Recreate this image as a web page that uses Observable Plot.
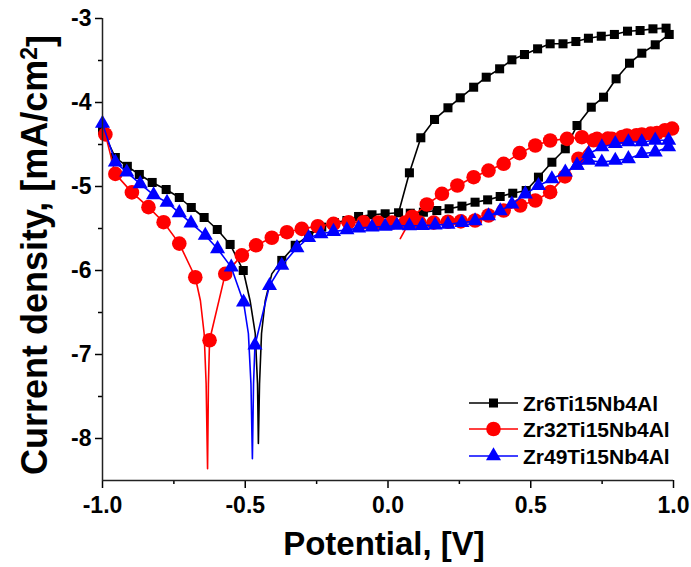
<!DOCTYPE html>
<html><head><meta charset="utf-8">
<script src="https://cdn.jsdelivr.net/npm/d3@7"></script>
<script src="https://cdn.jsdelivr.net/npm/@observablehq/plot@0.6"></script>
<style>body{margin:0;background:#fff}#chart{width:691px;height:567px}</style>
</head><body><div id="chart"></div>
<script>
// ---- data: [potential V, log current density] ----
const seriesNames = ["Zr6Ti15Nb4Al", "Zr32Ti15Nb4Al", "Zr49Ti15Nb4Al"];
const seriesColors = ["#000000", "#ff0000", "#0000ff"];
const seriesSymbols = ["square", "circle", "triangle"];

const xTicks = [-1.0, -0.5, 0.0, 0.5, 1.0];
const xMinorTicks = [-0.75, -0.25, 0.25, 0.75];
const yTicks = [-3, -4, -5, -6, -7, -8];
const yMinorTicks = [-3.5, -4.5, -5.5, -6.5, -7.5];

// Zr6Ti15Nb4Al
const zr6Cathodic = [[-1.000,-4.33],[-0.955,-4.655],[-0.913,-4.76],[-0.871,-4.857],[-0.826,-4.952],[-0.777,-5.036],[-0.731,-5.131],[-0.689,-5.25],[-0.644,-5.369],[-0.598,-5.512],[-0.553,-5.69],[-0.507,-6.0]];
const zr6Tip = [[-0.483,-6.36],[-0.465,-6.75],[-0.457,-7.35],[-0.454,-8.06],[-0.450,-7.35],[-0.443,-6.75],[-0.430,-6.36],[-0.407,-6.04]];
const zr6Anodic = [[-0.372,-5.88],[-0.325,-5.70],[-0.278,-5.583],[-0.232,-5.484],[-0.188,-5.43],[-0.144,-5.405],[-0.103,-5.357],[-0.056,-5.337],[-0.010,-5.325],[0.037,-5.313],
  [0.075,-4.837],[0.115,-4.42],[0.163,-4.202],[0.210,-4.063],[0.253,-3.944],[0.300,-3.818],[0.344,-3.699],[0.391,-3.599],[0.434,-3.492],[0.478,-3.429],[0.524,-3.361],[0.568,-3.301],[0.613,-3.301],[0.658,-3.274],[0.702,-3.235],[0.747,-3.211],[0.793,-3.19],[0.839,-3.151],[0.883,-3.143],[0.928,-3.123],[0.974,-3.115],[0.985,-3.19]];
const zr6Reverse = [[0.936,-3.313],[0.889,-3.413],[0.846,-3.532],[0.799,-3.718],[0.755,-3.937],[0.712,-4.056],[0.662,-4.274],[0.621,-4.551],[0.574,-4.711],[0.527,-4.889],[0.484,-5.048],[0.437,-5.08],[0.393,-5.119],[0.349,-5.159],[0.305,-5.187],[0.259,-5.234],[0.214,-5.265],[0.171,-5.286],[0.124,-5.306],[0.078,-5.318]];
const zr6End = [];

// Zr32Ti15Nb4Al
const zr32Cathodic = [[-0.990,-4.38],[-0.955,-4.85],[-0.897,-5.07],[-0.839,-5.246],[-0.786,-5.425],[-0.731,-5.68],[-0.675,-6.08]];
const zr32Tip = [[-0.657,-6.36],[-0.644,-6.75],[-0.637,-7.35],[-0.632,-8.36],[-0.629,-7.35]];
const zr32Anodic = [[-0.625,-6.83],[-0.570,-6.04],[-0.512,-5.82],[-0.462,-5.70],[-0.407,-5.61],[-0.354,-5.544],[-0.302,-5.504],[-0.246,-5.473],[-0.191,-5.444],[-0.138,-5.425],[-0.086,-5.425],[-0.034,-5.43],[0.014,-5.43],[0.060,-5.43],[0.110,-5.43],[0.160,-5.43],[0.210,-5.42],[0.255,-5.415],[0.305,-5.405],[0.352,-5.345],[0.405,-5.286],[0.463,-5.226],[0.516,-5.167],[0.568,-5.067],[0.620,-4.88],[0.667,-4.67],[0.720,-4.45],[0.770,-4.43],[0.820,-4.41],[0.870,-4.39],[0.920,-4.37],[0.970,-4.33],[0.995,-4.31]];
const zr32Reverse = [[0.942,-4.365],[0.889,-4.381],[0.837,-4.393],[0.784,-4.433],[0.732,-4.433],[0.679,-4.413],[0.627,-4.433],[0.568,-4.452],[0.516,-4.512],[0.461,-4.603],[0.405,-4.73],[0.352,-4.81],[0.300,-4.889],[0.243,-4.988],[0.189,-5.087],[0.136,-5.214],[0.085,-5.36]];
const zr32End = [[0.043,-5.62]];

// Zr49Ti15Nb4Al
const zr49Cathodic = [[-1.000,-4.25],[-0.955,-4.71],[-0.915,-4.83],[-0.868,-4.968],[-0.821,-5.10],[-0.774,-5.19],[-0.731,-5.313],[-0.690,-5.437],[-0.640,-5.583],[-0.597,-5.742],[-0.549,-5.96],[-0.506,-6.377]];
const zr49Tip = [[-0.489,-6.75],[-0.480,-7.35],[-0.475,-8.24],[-0.471,-7.35]];
const zr49Anodic = [[-0.466,-6.89],[-0.415,-6.18],[-0.372,-5.94],[-0.319,-5.73],[-0.278,-5.61],[-0.235,-5.563],[-0.191,-5.536],[-0.144,-5.516],[-0.103,-5.496],[-0.056,-5.484],[-0.010,-5.476],[0.031,-5.464],[0.075,-5.47],[0.120,-5.465],[0.165,-5.46],[0.210,-5.45],[0.259,-5.43],[0.305,-5.41],[0.352,-5.35],[0.393,-5.29],[0.434,-5.21],[0.481,-5.09],[0.527,-4.99],[0.574,-4.91],[0.621,-4.83],[0.662,-4.75],[0.703,-4.61],[0.749,-4.53],[0.796,-4.49],[0.842,-4.47],[0.889,-4.47],[0.936,-4.45],[0.983,-4.45]];
const zr49Reverse = [[0.983,-4.53],[0.936,-4.59],[0.889,-4.61],[0.842,-4.67],[0.796,-4.69],[0.749,-4.71],[0.703,-4.69],[0.662,-4.75]];
const zr49End = [];

// ---- build tables ----
const groups = [
  [zr6Cathodic, zr6Tip, zr6Anodic, zr6Reverse, zr6End],
  [zr32Cathodic, zr32Tip, zr32Anodic, zr32Reverse, zr32End],
  [zr49Cathodic, zr49Tip, zr49Anodic, zr49Reverse, zr49End]
];
const lineRows = [], markRows = [];
groups.forEach((g, si) => {
  const [cat, tip, ano, rev, end] = g;
  [...cat, ...tip, ...ano, ...rev, ...end].forEach(([E, i], k) => lineRows.push({s: si, k, E, i}));
  [...cat, ...ano, ...rev].forEach(([E, i]) => markRows.push({s: si, E, i}));
});

const FONT = "'Liberation Sans', Arial, sans-serif";
const W = 691, H = 567;
const mL = 102, mR = 18, mT = 18, mB = 87;
const markR = [5.1, 7.3, 5.6];

const marks = [];
seriesNames.forEach((name, si) => {
  marks.push(Plot.line(lineRows.filter(d => d.s === si), {x: "E", y: "i", stroke: seriesColors[si], strokeWidth: 1.6}));
  marks.push(Plot.dot(markRows.filter(d => d.s === si), {x: "E", y: "i", symbol: () => seriesSymbols[si], r: markR[si], fill: seriesColors[si], stroke: "none"}));
});

const chart = Plot.plot({
  width: W, height: H,
  marginLeft: mL, marginRight: mR, marginTop: mT, marginBottom: mB,
  x: {domain: [-1, 1]},
  y: {domain: [-8.5, -3]},
  style: {fontFamily: FONT, fontWeight: "bold", fontSize: "23px", color: "#000", background: "#fff"},
  marks: [
    ...marks,
    Plot.axisX({ticks: xMinorTicks, tickSize: 4, tickFormat: () => "", label: null, strokeWidth: 1.5}),
    Plot.axisX({ticks: xTicks, tickSize: 8, tickPadding: 8, tickFormat: d => d.toFixed(1), label: null, strokeWidth: 1.5, fontSize: 23}),
    Plot.axisY({ticks: yMinorTicks, tickSize: 4, tickFormat: () => "", label: null, strokeWidth: 1.5}),
    Plot.axisY({ticks: yTicks, tickSize: 7, tickPadding: 4, tickFormat: d => String(d), label: null, strokeWidth: 1.5, fontSize: 23}),
    Plot.ruleX([-1], {stroke: "#222", strokeWidth: 1.5}),
    Plot.ruleY([-8.5], {stroke: "#222", strokeWidth: 1.5})
  ]
});
document.getElementById("chart").appendChild(chart);

// ---- titles and legend ----
const svg = d3.select(chart);
svg.append("text")
  .attr("x", 384).attr("y", 555)
  .attr("text-anchor", "middle")
  .style("font-family", FONT).style("font-weight", "bold").style("font-size", "33px")
  .text("Potential, [V]");

const yt = svg.append("text")
  .attr("transform", `translate(47,255) rotate(-90)`)
  .attr("text-anchor", "middle")
  .style("font-family", FONT).style("font-weight", "bold").style("font-size", "36px");
yt.append("tspan").text("Current density, [mA/cm");
yt.append("tspan").attr("dy", "-0.45em").style("font-size", "23px").text("2");
yt.append("tspan").attr("dy", "0.45em").text("]");

const leg = svg.append("g");
const legY = [403, 429, 456];
seriesNames.forEach((name, si) => {
  const y = legY[si];
  leg.append("line").attr("x1", 469).attr("x2", 518).attr("y1", y).attr("y2", y)
    .attr("stroke", seriesColors[si]).attr("stroke-width", 1.6);
  const sym = [d3.symbolSquare, d3.symbolCircle, d3.symbolTriangle][si];
  leg.append("path").attr("transform", `translate(493.5,${y})`)
    .attr("d", d3.symbol(sym, Math.PI * markR[si] * markR[si])())
    .attr("fill", seriesColors[si]);
  leg.append("text").attr("x", 523).attr("y", y + 7.5)
    .attr("text-anchor", "start")
    .style("font-family", FONT).style("font-weight", "bold").style("font-size", "21px")
    .text(name);
});
</script>
</body></html>
